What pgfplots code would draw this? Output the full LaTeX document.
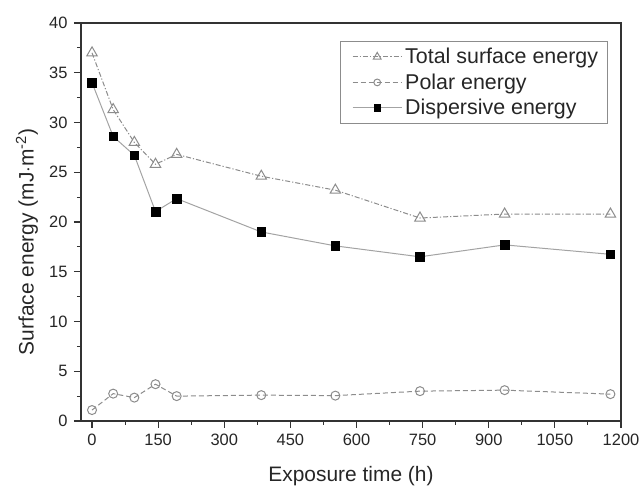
\documentclass[border=0pt]{standalone}
\usepackage{pgfplots}
\pgfplotsset{compat=1.18}
\usepackage{fontspec}
\setmainfont{Liberation Sans}
\definecolor{framec}{HTML}{333333}
\definecolor{linec}{HTML}{8C8C8C}
\definecolor{markc}{HTML}{8C8C8C}
\begin{document}
\begin{tikzpicture}
\useasboundingbox (0,0) rectangle (641bp,487bp);
\begin{axis}[
  at={(81bp,66bp)}, anchor=south west,
  scale only axis=true,
  width=540bp, height=398bp,
  xmin=-25, xmax=1200, ymin=0, ymax=40,
  xtick={0,150,...,1200}, ytick={0,5,...,40},
  minor x tick num=1, minor y tick num=1,
  tick align=outside, tick pos=left,
  major tick length=7bp, minor tick length=4bp,
  axis line style={framec, line width=1.3bp},
  every tick/.style={framec, line width=1.1bp},
  /pgf/number format/assume math mode=true,
  /pgf/number format/1000 sep={},
  tick label style={font=\fontsize{16.5}{19}\selectfont, text=black!85},
  xticklabel style={yshift=-3bp},
  yticklabel style={xshift=-3bp},
  xlabel={Exposure time (h)},
  ylabel={Surface energy (mJ$\cdot$m\textsuperscript{-2})},
  label style={font=\fontsize{21}{24}\selectfont, text=black!85},
  xlabel style={at={(axis description cs:0.5,-0.153)}, anchor=base},
  ylabel style={at={(axis description cs:-0.1,0.45)}, anchor=center},
  legend style={at={(1,1)}, anchor=north east, xshift=-13bp, yshift=-18bp,
    draw=black!45, line width=0.8bp, font=\fontsize{21.5}{25}\selectfont,
    text=black!85, inner xsep=6.5bp, inner ysep=5bp, row sep=4.5bp,
    nodes={inner xsep=3bp, inner ysep=2bp},
    cells={anchor=west}},
  legend cell align=left,
  legend image code/.code={
    \path (0bp,0bp);
    \draw[mark repeat=2,mark phase=2,#1, every mark/.append style={scale=0.75}]
      plot coordinates {(5bp,0bp) (29.5bp,0bp) (54bp,0bp)};},
]
\addplot[linec, line width=1bp, dash pattern=on 5bp off 2bp on 1.2bp off 2bp,
  mark=triangle, mark size=6bp, mark options={solid, draw=markc, fill=white, line width=1bp}]
  coordinates {(0,37.0) (48,31.3) (96,28.0) (144,25.8) (192,26.8) (384,24.6) (552,23.2) (744,20.4) (936,20.8) (1176,20.8)};
\addlegendentry{Total surface energy}
\addplot[linec, line width=1bp, dash pattern=on 5bp off 3bp,
  mark=o, mark size=4.5bp, mark options={solid, draw=markc, fill=white, line width=1bp}]
  coordinates {(0,1.1) (48,2.75) (96,2.35) (144,3.7) (192,2.5) (384,2.6) (552,2.55) (744,3.0) (936,3.1) (1176,2.7)};
\addlegendentry{Polar energy}
\addplot[linec!80, line width=1bp,
  mark=square*, mark size=4.3bp, mark options={solid, draw=black, fill=black, line width=0.5bp}]
  coordinates {(0,34.0) (48,28.6) (96,26.7) (144,21.05) (192,22.35) (384,19.0) (552,17.6) (744,16.5) (936,17.7) (1176,16.75)};
\addlegendentry{Dispersive energy}
\end{axis}
\end{tikzpicture}
\end{document}
